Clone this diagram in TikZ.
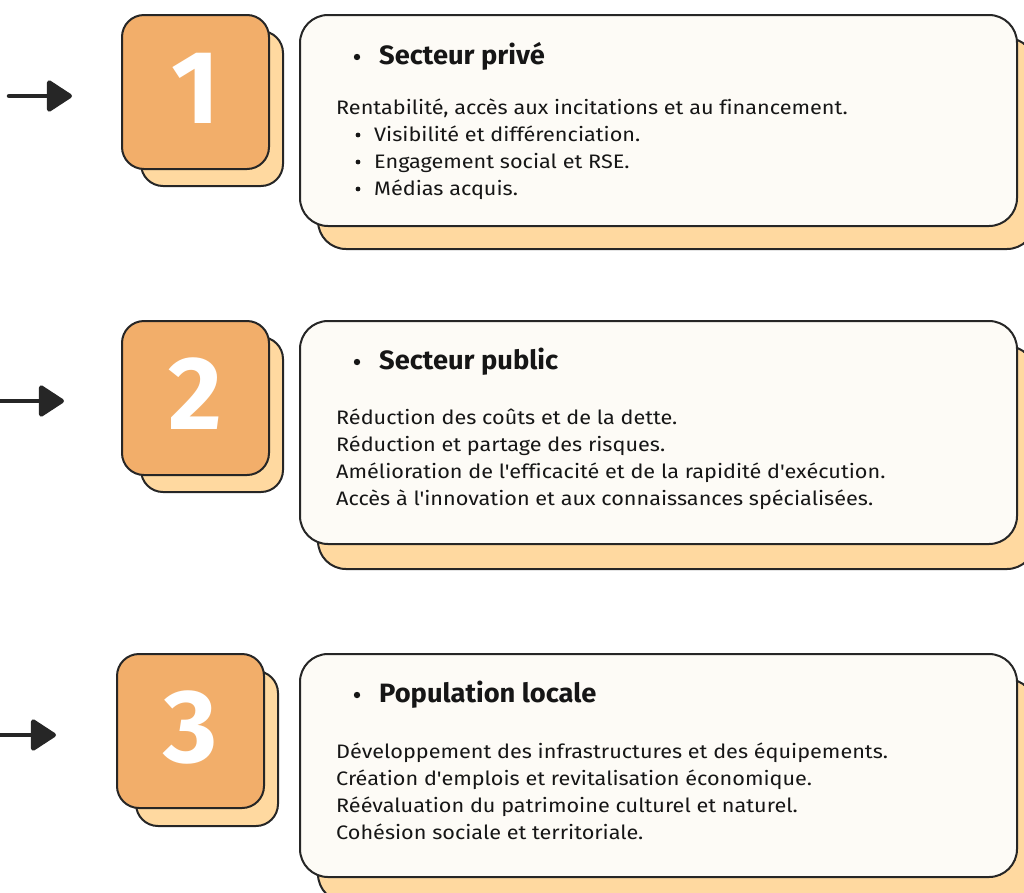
\documentclass[tikz,border=0pt]{standalone}
\usepackage{fontspec}
\setmainfont{Fira Sans}
\newfontfamily\bodyfont{Fira Sans}[FakeStretch=1.11,Ligatures={TeXOff,CommonOff}]
\newfontfamily\headfont{Fira Sans}[FakeStretch=1.03,Ligatures={TeXOff,CommonOff}]
\usetikzlibrary{arrows.meta}

\definecolor{ink}{RGB}{38,38,38}
\definecolor{textink}{RGB}{22,22,22}
\definecolor{numfront}{RGB}{242,174,106}
\definecolor{numback}{RGB}{255,217,160}
\definecolor{cardfill}{RGB}{253,251,246}

\begin{document}
\begin{tikzpicture}[x=1pt,y=-1pt,
  outline/.style={draw=ink,line width=2pt,inner sep=0pt,anchor=north west},
  numback/.style={outline,fill=numback,rounded corners=22pt,minimum width=142pt,minimum height=155pt},
  numfront/.style={outline,fill=numfront,rounded corners=22pt,minimum width=147pt,minimum height=154pt},
  digit/.style={text=white,font=\fontsize{104pt}{104pt}\selectfont\bfseries},
  cardback/.style={outline,fill=numback,rounded corners=28pt,minimum width=717pt},
  cardfront/.style={outline,fill=cardfill,rounded corners=28pt,minimum width=717pt},
  heading/.style={anchor=base west,inner sep=0pt,text=textink,font=\headfont\fontsize{26.5pt}{30pt}\selectfont\bfseries},
  body/.style={anchor=base west,inner sep=0pt,text=textink,font=\bodyfont\fontsize{19.5pt}{27pt}\selectfont},
  pointer/.style={draw=ink,line width=4.5pt,line cap=round,
    -{Triangle[length=27pt,width=34pt,round]}},
  dot/.style={fill=textink}
]
\useasboundingbox (0,0) rectangle (1024,892);

% ---------- row 1 : private sector ----------
\coordinate (a1s) at (9,96);
\coordinate (a1e) at (72,96);
\draw[pointer] (a1s) -- (a1e);
\node[numback] (b1) at (140,30) {};
\node[numfront,label={[digit,yshift=4pt]center:1}] (n1) at (121,14) {};
\node[cardback,minimum height=211pt] (cb1) at (317,37) {};
\node[cardfront,minimum height=211pt] (c1) at (299,14) {};
\fill[dot] (357,57) circle (3.2);
\node[heading] (h1) at (379,64) {Secteur privé};
\node[body] (t11) at (336,114) {Rentabilité, accès aux incitations et au financement.};
\fill[dot] (358,135) circle (2.4);
\node[body] (t12) at (374,141) {Visibilité et différenciation.};
\fill[dot] (358,162) circle (2.4);
\node[body] (t13) at (374,168) {Engagement social et RSE.};
\fill[dot] (358,189) circle (2.4);
\node[body] (t14) at (374,195) {Médias acquis.};

% ---------- row 2 : public sector ----------
\coordinate (a2s) at (0,401);
\coordinate (a2e) at (64,401);
\draw[pointer] (a2s) -- (a2e);
\node[numback] (b2) at (140,336) {};
\node[numfront,label={[digit,yshift=4pt]center:2}] (n2) at (121,320) {};
\node[cardback,minimum height=223pt] (cb2) at (317,345) {};
\node[cardfront,minimum height=223pt] (c2) at (299,320) {};
\fill[dot] (357,362) circle (3.2);
\node[heading] (h2) at (379,369) {Secteur public};
\node[body] (t21) at (336,424) {Réduction des coûts et de la dette.};
\node[body] (t22) at (336,451) {Réduction et partage des risques.};
\node[body] (t23) at (336,478) {Amélioration de l'efficacité et de la rapidité d'exécution.};
\node[body] (t24) at (336,505) {Accès à l'innovation et aux connaissances spécialisées.};

% ---------- row 3 : local population ----------
\coordinate (a3s) at (0,735);
\coordinate (a3e) at (56,735);
\draw[pointer] (a3s) -- (a3e);
\node[numback] (b3) at (135,670) {};
\node[numfront,label={[digit,yshift=4pt]center:3}] (n3) at (116,653) {};
\node[cardback,minimum height=223pt] (cb3) at (317,678) {};
\node[cardfront,minimum height=223pt] (c3) at (299,653) {};
\fill[dot] (357,695) circle (3.2);
\node[heading] (h3) at (379,702) {Population locale};
\node[body] (t31) at (336,758) {Développement des infrastructures et des équipements.};
\node[body] (t32) at (336,785) {Création d'emplois et revitalisation économique.};
\node[body] (t33) at (336,812) {Réévaluation du patrimoine culturel et naturel.};
\node[body] (t34) at (336,839) {Cohésion sociale et territoriale.};
\end{tikzpicture}
\end{document}
